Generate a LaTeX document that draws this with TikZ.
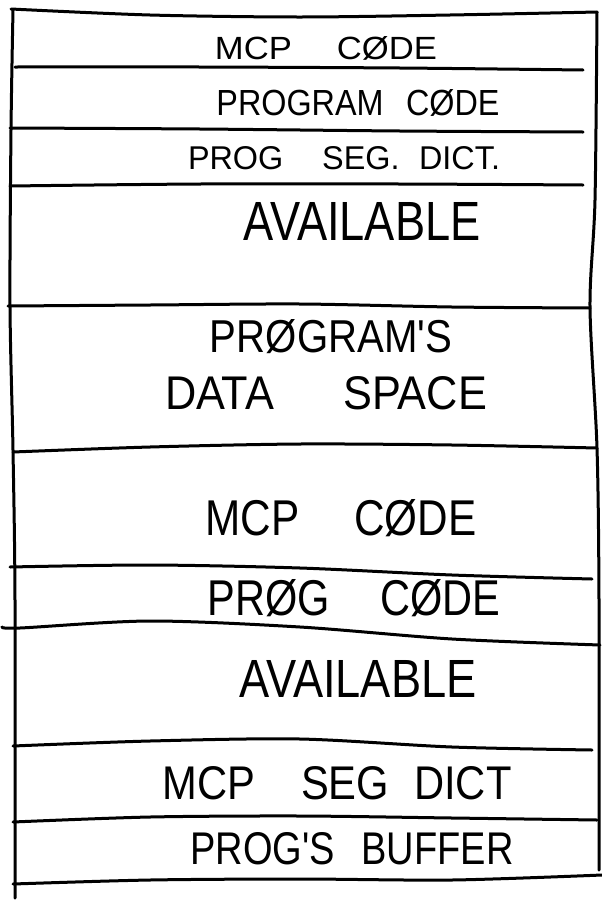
\documentclass[tikz,border=0pt]{standalone}
\usepackage{fontspec}
\usepackage{graphicx}
\setmainfont{Liberation Sans}
\newfontfamily\handfont{Liberation Sans}
\newcommand\handtxt[3]{\resizebox{#1pt}{#2pt}{\handfont #3}}
\tikzset{
  rule/.style={line width=3pt, line cap=round, line join=round, black},
  lbl/.style={inner sep=0pt, anchor=center, text=black}
}
\begin{document}
\begin{tikzpicture}[x=1pt,y=-1pt]
\useasboundingbox (0,0) rectangle (602,900);
% outer edges
\draw[rule] plot[smooth] coordinates {(13,10) (11,130) (10,306) (13,450) (15,600) (15,898)};
\draw[rule] plot[smooth] coordinates {(597,12) (595,200) (590,307) (597,448) (599,600) (599,870)};
% horizontal rules
\draw[rule] plot[smooth] coordinates {(11,9) (150,15) (300,17) (450,15) (597,12)};
\draw[rule] plot[smooth] coordinates {(15,67) (200,67) (400,68) (583,70)};
\draw[rule] plot[smooth] coordinates {(10,128) (200,129) (400,131) (583,132)};
\draw[rule] plot[smooth] coordinates {(10,186) (200,184) (400,184) (583,185)};
\draw[rule] plot[smooth] coordinates {(8,306) (150,305) (300,304) (452,307) (590,308)};
\draw[rule] plot[smooth] coordinates {(13,452) (150,447) (300,444) (452,445) (597,448)};
\draw[rule] plot[smooth] coordinates {(10,567) (150,565) (300,568) (452,575) (592,579)};
\draw[rule] plot[smooth] coordinates {(2,627) (20,628) (150,621) (300,627) (452,639) (600,645)};
\draw[rule] plot[smooth] coordinates {(13,746) (150,741) (300,739) (452,747) (592,750)};
\draw[rule] plot[smooth] coordinates {(13,822) (150,817) (300,816) (452,818) (597,820)};
\draw[rule] plot[smooth] coordinates {(13,884) (150,880) (300,879) (452,880) (602,875)};
% labels
\node[lbl] (t1)  at (326,48)  {\handtxt{222}{23}{MCP\hspace{1.3em}CØDE}};
\node[lbl] (t2)  at (358,103) {\handtxt{283}{26}{PROGRAM\hspace{0.7em}CØDE}};
\node[lbl] (t3)  at (344,158) {\handtxt{312}{23}{PROG\hspace{1.2em}SEG.\hspace{0.6em}DICT.}};
\node[lbl] (t4)  at (362,221) {\handtxt{237}{38}{AVAILABLE}};
\node[lbl] (t5)  at (331,337) {\handtxt{242}{33}{PRØGRAM'S}};
\node[lbl] (t6)  at (326,393) {\handtxt{322}{33}{DATA\hspace{1.6em}SPACE}};
\node[lbl] (t7)  at (341,518) {\handtxt{271}{36}{MCP\hspace{1.3em}CØDE}};
\node[lbl] (t8)  at (354,598) {\handtxt{292}{36}{PRØG\hspace{1.2em}CØDE}};
\node[lbl] (t9)  at (358,679) {\handtxt{237}{37}{AVAILABLE}};
\node[lbl] (t10) at (337,783) {\handtxt{349}{33}{MCP\hspace{1.1em}SEG\hspace{0.6em}DICT}};
\node[lbl] (t11) at (352,849) {\handtxt{323}{32}{PROG'S\hspace{0.7em}BUFFER}};
\end{tikzpicture}
\end{document}
